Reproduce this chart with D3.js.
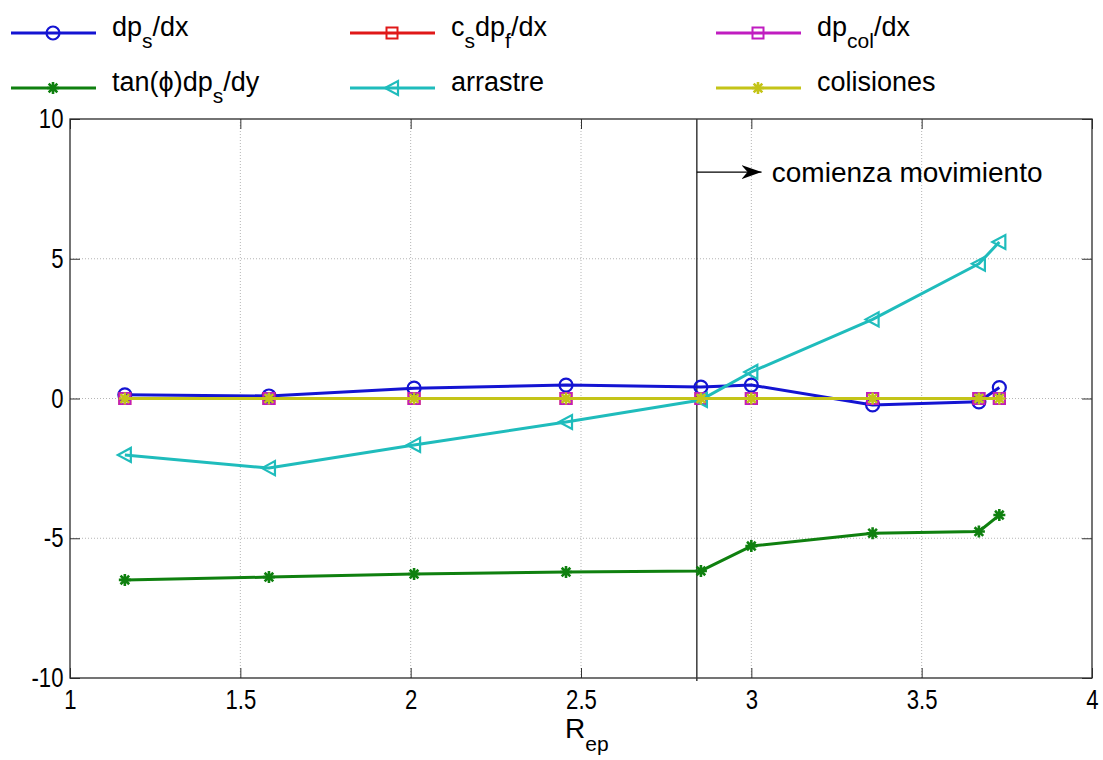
<!DOCTYPE html>
<html>
<head>
<meta charset="utf-8">
<script src="https://cdn.jsdelivr.net/npm/d3@7"></script>
<style>
  body { margin: 0; background: #fff; }
  svg { display: block; }
  text { font-family: "Liberation Sans", Arial, sans-serif; fill: #000; }
</style>
</head>
<body>
<svg></svg>
<script>
// fuerzas frente a R_ep

var width = 1103;
var height = 760;
var margin = {left: 70, right: 11, top: 119, bottom: 82};

var rep        = [1.161, 1.584, 2.010, 2.456, 2.852, 3.0, 3.356, 3.668, 3.728];
var dpsdx      = [0.13, 0.09, 0.37, 0.48, 0.41, 0.48, -0.23, -0.12, 0.39];
var csdpfdx    = [0, 0, 0, 0, 0, 0, 0, 0, 0];
var dpcoldx    = [0, 0, 0, 0, 0, 0, 0, 0, 0];
var tanDpsdy   = [-6.49, -6.39, -6.28, -6.21, -6.17, -5.28, -4.82, -4.76, -4.17];
var arrastre   = [-2.02, -2.49, -1.66, -0.84, -0.05, 0.95, 2.83, 4.82, 5.60];
var colisiones = [0, 0, 0, 0, 0, 0, 0, 0, 0];

var xTicks = [1, 1.5, 2, 2.5, 3, 3.5, 4];
var yTicks = [-10, -5, 0, 5, 10];
var inicioMov = 2.84;

var series = [
  {name: "dpsdx",      values: dpsdx,      color: "#1414d2", marker: "circle",   label: [["dp"], ["s", 1], ["/dx"]]},
  {name: "csdpfdx",    values: csdpfdx,    color: "#e01818", marker: "square",   label: [["c"], ["s", 1], ["dp"], ["f", 1], ["/dx"]]},
  {name: "dpcoldx",    values: dpcoldx,    color: "#c01cc0", marker: "square",   label: [["dp"], ["col", 1], ["/dx"]]},
  {name: "tanDpsdy",   values: tanDpsdy,   color: "#0f800f", marker: "asterisk", label: [["tan(\u03d5)dp"], ["s", 1], ["/dy"]]},
  {name: "arrastre",   values: arrastre,   color: "#1fbcbc", marker: "triangle", label: [["arrastre"]]},
  {name: "colisiones", values: colisiones, color: "#c4c418", marker: "asterisk", label: [["colisiones"]]}
];

var xScale = d3.scaleLinear()
                .domain([1, 4])
                .range([margin.left, width - margin.right]);
var yScale = d3.scaleLinear()
                .domain([-10, 10])
                .range([height - margin.bottom, margin.top]);

var svg = d3.select('svg')
              .attr('width', width)
              .attr('height', height);

var x0 = xScale(1), x1 = xScale(4), yTop = yScale(10), yBot = yScale(-10);

// rejilla punteada
svg.append("g").selectAll("line")
    .data(xTicks.slice(1, -1))
    .enter().append("line")
      .attr("x1", d => xScale(d)).attr("x2", d => xScale(d))
      .attr("y1", yTop).attr("y2", yBot)
      .attr("stroke", "#b5b5b5").attr("stroke-width", 1)
      .attr("stroke-dasharray", "1,2");
svg.append("g").selectAll("line")
    .data(yTicks.slice(1, -1))
    .enter().append("line")
      .attr("x1", x0).attr("x2", x1)
      .attr("y1", d => yScale(d)).attr("y2", d => yScale(d))
      .attr("stroke", "#b5b5b5").attr("stroke-width", 1)
      .attr("stroke-dasharray", "1,2");

// ejes (ticks hacia dentro)
function styleAxis(g) {
  g.select(".domain").remove();
  g.selectAll(".tick line").attr("stroke", "#333");
  g.selectAll("text")
    .style("font-size", "27px")
    .style("font-family", '"Liberation Sans", Arial, sans-serif');
}
var fmt = d => String(d);

svg.append("g")
    .attr("transform", "translate(0," + yBot + ")")
    .call(d3.axisBottom(xScale).tickValues(xTicks).tickSize(-10).tickPadding(12).tickFormat(fmt))
    .call(styleAxis)
    .selectAll("text").attr("transform", "scale(0.82,1)");
svg.append("g")
    .attr("transform", "translate(0," + yTop + ")")
    .call(d3.axisTop(xScale).tickValues(xTicks).tickSize(-10).tickFormat(""))
    .call(styleAxis);
svg.append("g")
    .attr("transform", "translate(" + x0 + ",0)")
    .call(d3.axisLeft(yScale).tickValues(yTicks).tickSize(-10).tickPadding(8).tickFormat(fmt))
    .call(styleAxis)
    .selectAll("text").attr("transform", "scale(0.82,1)");
svg.append("g")
    .attr("transform", "translate(" + x1 + ",0)")
    .call(d3.axisRight(yScale).tickValues(yTicks).tickSize(-10).tickFormat(""))
    .call(styleAxis);

svg.append("rect")
    .attr("x", x0).attr("y", yTop)
    .attr("width", x1 - x0).attr("height", yBot - yTop)
    .attr("fill", "none").attr("stroke", "#2a2a2a").attr("stroke-width", 1.3);

// linea vertical de inicio de movimiento
svg.append("line")
    .attr("x1", xScale(inicioMov)).attr("x2", xScale(inicioMov))
    .attr("y1", yTop).attr("y2", yBot + 3)
    .attr("stroke", "#3a3a3a").attr("stroke-width", 1.5);

svg.append("defs").append("marker")
    .attr("id", "flecha")
    .attr("viewBox", "0 0 20 14")
    .attr("refX", 20).attr("refY", 7)
    .attr("markerWidth", 20).attr("markerHeight", 14)
    .attr("markerUnits", "userSpaceOnUse")
    .attr("orient", "auto")
  .append("path")
    .attr("d", "M0,0 L20,7 L0,14 L6,7 Z")
    .attr("fill", "#000");

var yFlecha = yScale(8.1);
svg.append("line")
    .attr("x1", xScale(inicioMov)).attr("x2", xScale(3.03))
    .attr("y1", yFlecha).attr("y2", yFlecha)
    .attr("stroke", "#000").attr("stroke-width", 1.2)
    .attr("marker-end", "url(#flecha)");
svg.append("text")
    .attr("x", xScale(3.06))
    .attr("y", yFlecha + 10)
    .style("font-size", "28px")
    .text("comienza movimiento");

// marcadores
function drawMarker(g, type, color, cx, cy) {
  if (type === "circle") {
    g.append("circle").attr("cx", cx).attr("cy", cy).attr("r", 6.5)
      .attr("fill", "none").attr("stroke", color).attr("stroke-width", 2.2);
  } else if (type === "square") {
    g.append("rect").attr("x", cx - 5.5).attr("y", cy - 5.5).attr("width", 11).attr("height", 11)
      .attr("fill", "none").attr("stroke", color).attr("stroke-width", 2);
  } else if (type === "triangle") {
    g.append("path")
      .attr("d", "M" + (cx - 7) + "," + cy + " L" + (cx + 6) + "," + (cy - 7) + " L" + (cx + 6) + "," + (cy + 7) + " Z")
      .attr("fill", "none").attr("stroke", color).attr("stroke-width", 2.2);
  } else {
    var r = 6, k = r * 0.72;
    g.append("path")
      .attr("d", "M" + (cx - r) + "," + cy + "h" + 2 * r +
                 "M" + cx + "," + (cy - r) + "v" + 2 * r +
                 "M" + (cx - k) + "," + (cy - k) + "l" + 2 * k + "," + 2 * k +
                 "M" + (cx - k) + "," + (cy + k) + "l" + 2 * k + "," + (-2 * k))
      .attr("fill", "none").attr("stroke", color).attr("stroke-width", 2.6);
  }
}

var line = d3.line()
    .x(d => xScale(d[0]))
    .y(d => yScale(d[1]));

series.forEach(s => {
  var pts = rep.map((r, i) => [r, s.values[i]]);
  var g = svg.append("g").classed(s.name, true);
  g.append("path")
    .datum(pts)
    .attr("d", line)
    .attr("fill", "none")
    .attr("stroke", s.color)
    .attr("stroke-width", 3)
    .attr("stroke-linejoin", "round");
  pts.forEach(p => drawMarker(g, s.marker, s.color, xScale(p[0]), yScale(p[1])));
});

// leyenda
var legX = [11, 350, 716];
var legY = [33, 88];
var subDy = 12;
series.forEach((s, i) => {
  var lx = legX[i % 3], ly = legY[Math.floor(i / 3)];
  var g = svg.append("g");
  g.append("line")
    .attr("x1", lx).attr("x2", lx + 85)
    .attr("y1", ly).attr("y2", ly)
    .attr("stroke", s.color).attr("stroke-width", 3);
  drawMarker(g, s.marker, s.color, lx + 42, ly);
  var t = g.append("text")
    .attr("x", lx + 101)
    .attr("y", ly + 3)
    .style("font-size", "27px");
  var enSub = false;
  s.label.forEach(p => {
    if (p[1]) {
      t.append("tspan").attr("dy", enSub ? 0 : subDy).style("font-size", "21px").text(p[0]);
      enSub = true;
    } else {
      t.append("tspan").attr("dy", enSub ? -subDy : 0).text(p[0]);
      enSub = false;
    }
  });
});

// etiqueta del eje x
var xl = svg.append("text")
    .attr("x", xScale(2.5) - 16)
    .attr("y", 738)
    .style("font-size", "28px");
xl.append("tspan").text("R");
xl.append("tspan").attr("dy", 13).style("font-size", "21px").text("ep");
</script>
</body>
</html>
